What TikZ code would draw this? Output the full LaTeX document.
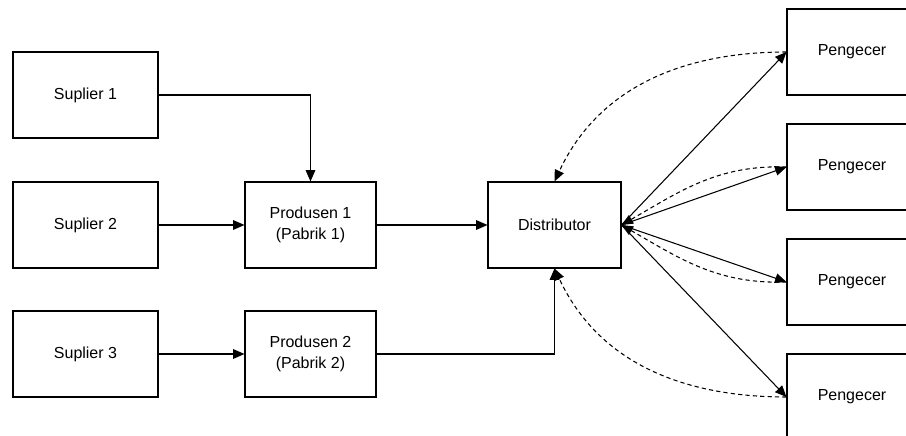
\documentclass[tikz,border=0pt]{standalone}
\usepackage{fontspec}
\setmainfont{Liberation Sans}
\usetikzlibrary{arrows.meta}

\begin{document}
\begin{tikzpicture}[x=0.02cm,y=-0.02cm,line width=0.6pt,>={Triangle[length=6.5pt,width=5.5pt]},box node/.style={rectangle,draw,minimum height=1.72cm,align=center,font=\fontsize{9.1}{12}\selectfont}]
\tikzstyle{flow edge} = [draw,->]
\tikzstyle{info edge} = [draw,->,dash pattern=on 2.4pt off 1.8pt]

\useasboundingbox (0,0) rectangle (906,436);
\clip (0,0) rectangle (906,436);

% Supplier
\node[box node,minimum width=2.9cm] (sup1) at (85.5,95) {Suplier 1};
\node[box node,minimum width=2.9cm] (sup2) at (85.5,225) {Suplier 2};
\node[box node,minimum width=2.9cm] (sup3) at (85.5,354) {Suplier 3};

% Produsen & distributor
\node[box node,minimum width=2.62cm] (prod1) at (310.5,225) {Produsen 1\\(Pabrik 1)};
\node[box node,minimum width=2.62cm] (prod2) at (310.5,354) {Produsen 2\\(Pabrik 2)};
\node[box node,minimum width=2.66cm] (dist) at (554.5,225) {Distributor};

% Pengecer
\node[box node,minimum width=2.6cm] (peng1) at (852,52) {Pengecer};
\node[box node,minimum width=2.6cm] (peng2) at (852,167) {Pengecer};
\node[box node,minimum width=2.6cm] (peng3) at (852,282) {Pengecer};
\node[box node,minimum width=2.6cm] (peng4) at (852,397) {Pengecer};

\path[flow edge] (sup1.east) -| (prod1.north);
\path[flow edge] (sup2.east) -- (prod1.west);
\path[flow edge] (sup3.east) -- (prod2.west);
\path[flow edge] (prod1.east) -- (dist.west);
\path[flow edge] (prod2.east) -| (dist.south);

\path[flow edge] (dist.east) -- (peng1.west);
\path[flow edge] (dist.east) -- (peng2.west);
\path[flow edge] (dist.east) -- (peng3.west);
\path[flow edge] (dist.east) -- (peng4.west);

% Feedback
\path[info edge] (peng1.west) to[out=180,in=65] (dist.north);
\path[info edge] (peng2.west) to[out=178,in=30] (dist.east);
\path[info edge] (peng3.west) to[out=182,in=-30] (dist.east);
\path[info edge] (peng4.west) to[out=180,in=-65] (dist.south);

\end{tikzpicture}
\end{document}
